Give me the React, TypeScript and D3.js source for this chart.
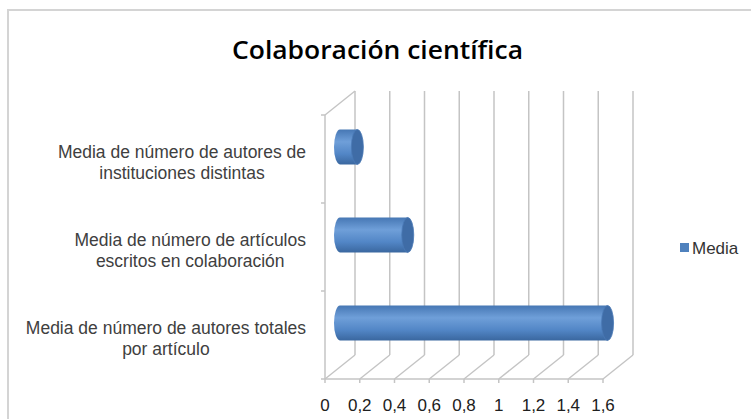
import React, { useEffect, useRef } from 'react';
import * as d3 from 'd3';

const categories = [
  ['Media de número de autores de', 'instituciones distintas'],
  ['Media de número de artículos', 'escritos en colaboración'],
  ['Media de número de autores totales', 'por artículo'],
];
const media = [0.1, 0.39, 1.54];
const ticks = [0, 0.2, 0.4, 0.6, 0.8, 1, 1.2, 1.4, 1.6];
const seriesName = 'Media';

const W = 751, H = 419;

function App() {
  const ref = useRef<SVGSVGElement>(null);

  useEffect(() => {
    const svg = d3.select(ref.current);
    svg.selectAll('*').remove();

    // 3d depth offset (front -> back)
    const dx = 30, dy = -24;
    const x = d3.scaleLinear().domain([0, 1.6]).range([325, 603]);
    const y = d3.scaleBand<number>().domain(d3.range(categories.length)).range([115, 379]);
    const bottom = 379, top = 115;
    const font = '"Liberation Sans", Arial, sans-serif';

    const defs = svg.append('defs');
    const grad = defs.append('linearGradient')
      .attr('id', 'cyl').attr('x1', 0).attr('y1', 0).attr('x2', 0).attr('y2', 1);
    grad.append('stop').attr('offset', '0%').attr('stop-color', '#4677b4');
    grad.append('stop').attr('offset', '35%').attr('stop-color', '#6f9fd9');
    grad.append('stop').attr('offset', '70%').attr('stop-color', '#5286c6');
    grad.append('stop').attr('offset', '100%').attr('stop-color', '#3a679f');

    // chart frame
    svg.append('rect').attr('x', 0).attr('y', 0).attr('width', W).attr('height', H).attr('fill', '#fff');
    svg.append('rect').attr('x', 8).attr('y', 10).attr('width', W + 20).attr('height', H + 20)
      .attr('fill', '#fff').attr('stroke', '#d4d4d4').attr('stroke-width', 2);

    svg.append('text').attr('x', 232).attr('y', 59)
      .attr('textLength', 291).attr('lengthAdjust', 'spacingAndGlyphs')
      .style('font-family', '"Open Sans", sans-serif').style('font-weight', 600).style('font-size', '25px')
      .attr('fill', '#000').text('Colaboración científica');

    const grid = svg.append('g').attr('stroke', '#c4c4c4').attr('stroke-width', 1.5).attr('fill', 'none');
    // back wall verticals
    grid.selectAll('.v').data(ticks).enter().append('line')
      .attr('x1', d => x(d) + dx).attr('x2', d => x(d) + dx)
      .attr('y1', top + dy).attr('y2', bottom + dy);
    // floor diagonals
    grid.selectAll('.f').data(ticks).enter().append('line')
      .attr('x1', d => x(d)).attr('x2', d => x(d) + dx)
      .attr('y1', bottom).attr('y2', bottom + dy);
    // front floor edge + ticks
    grid.append('line').attr('x1', x(0)).attr('x2', x(1.6)).attr('y1', bottom).attr('y2', bottom);
    grid.selectAll('.t').data(ticks).enter().append('line')
      .attr('x1', d => x(d)).attr('x2', d => x(d)).attr('y1', bottom).attr('y2', bottom + 4);
    // left wall
    grid.append('line').attr('x1', x(0)).attr('x2', x(0)).attr('y1', top).attr('y2', bottom);
    grid.append('line').attr('x1', x(0)).attr('x2', x(0) + dx).attr('y1', top).attr('y2', top + dy);
    grid.selectAll('.ct').data(d3.range(categories.length + 1)).enter().append('line')
      .attr('x1', x(0) - 4).attr('x2', x(0))
      .attr('y1', i => top + i * y.bandwidth()).attr('y2', i => top + i * y.bandwidth());

    // bars (cylinders at mid depth)
    const rx = 6, bh = 35;
    const bars = svg.append('g');
    media.forEach((v, i) => {
      const cy = y(i)! + y.bandwidth() / 2 + dy / 2;
      const x0 = x(0) + dx / 2, x1 = x(v) + dx / 2;
      const t = cy - bh / 2, b = cy + bh / 2;
      bars.append('path')
        .attr('d', `M${x0},${t} L${x1},${t} L${x1},${b} L${x0},${b} A${rx},${bh / 2} 0 0 1 ${x0},${t} Z`)
        .attr('fill', 'url(#cyl)');
      bars.append('ellipse').attr('cx', x1).attr('cy', cy).attr('rx', rx).attr('ry', bh / 2)
        .attr('fill', '#3f6ca6').attr('stroke', '#4a7ab6').attr('stroke-width', 0.8);
    });

    // category labels, block right aligned at 308, lines centred
    const lab = svg.append('g').style('font-family', font)
      .style('font-size', '17.5px').attr('fill', '#404040');
    categories.forEach((lines, i) => {
      const cy = y(i)! + y.bandwidth() / 2 + 3;
      const g = lab.append('g');
      const txt = lines.map((l, k) => g.append('text').attr('y', cy + (k - (lines.length - 1) / 2) * 21 + 6).text(l));
      const wmax = d3.max(txt, t => (t.node() as SVGTextElement).getComputedTextLength())!;
      txt.forEach(t => t.attr('x', 306 - wmax / 2).attr('text-anchor', 'middle'));
    });

    // value axis labels
    svg.append('g').style('font-family', font).style('font-size', '17px')
      .attr('fill', '#202020')
      .selectAll('text').data(ticks).enter().append('text')
      .attr('x', d => x(d)).attr('y', 411).attr('text-anchor', 'middle')
      .text(d => d3.format('.1~f')(d).replace('.', ','));

    // legend
    svg.append('rect').attr('x', 680).attr('y', 243).attr('width', 9).attr('height', 9).attr('fill', '#4f81bd');
    svg.append('text').attr('x', 692).attr('y', 254)
      .style('font-family', font).style('font-size', '17px')
      .attr('fill', '#333').text(seriesName);
  }, []);

  return <svg ref={ref} width={W} height={H} style={{ position: 'absolute', left: 0, top: 0 }}></svg>;
}

export default App;
